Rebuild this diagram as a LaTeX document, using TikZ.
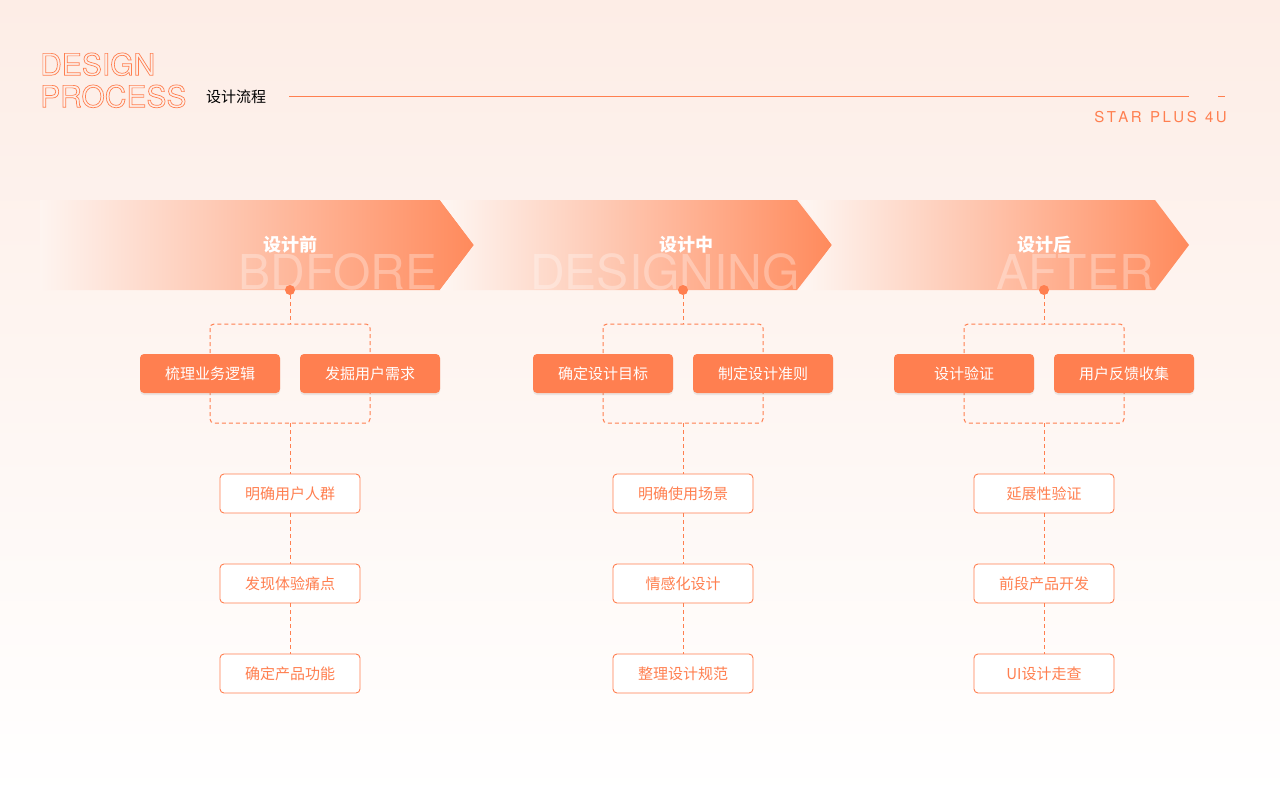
\documentclass[tikz,border=0pt]{standalone}
\usepackage{fontspec}
\setmainfont{TeX Gyre Heros}
\newfontfamily\cjk{Noto Sans CJK SC}
\usetikzlibrary{shadows}
\definecolor{org}{HTML}{FF7F50}
\definecolor{bgtop}{HTML}{FDEDE6}
\definecolor{bandl}{HTML}{FDEFE8}
\definecolor{bandm}{HTML}{FFCBB4}
\definecolor{bandr}{HTML}{FF8A5C}
\newcommand{\outl}[1]{\special{pdf:literal direct 1 Tr 0.7 w}#1\special{pdf:literal direct 0 Tr}}
\begin{document}
\begin{tikzpicture}[x=1pt,y=-1pt,
 fbox/.style={fill=org,rounded corners=4pt,minimum width=140pt,minimum height=39pt,text=white,font=\cjk\fontsize{15}{15}\selectfont,drop shadow={opacity=0.15,shadow xshift=0pt,shadow yshift=-2pt}},
 obox/.style={draw=org,fill=white,rounded corners=4pt,minimum width=140pt,minimum height=39pt,text=org,font=\cjk\fontsize{15}{15}\selectfont,line width=0.9pt},
 dl/.style={draw=org,dash pattern=on 4pt off 3pt,line width=1pt},
 dbox/.style={dl,rounded corners=4pt},
 band/.style={left color=bandl,middle color=bandm,right color=bandr},
 bandlbl/.style={text=white,font=\cjk\bfseries\fontsize{18}{18}\selectfont},
 wm/.style={text=white,opacity=0.3,font=\fontsize{48}{48}\selectfont}]
\useasboundingbox (0,0) rectangle (1280,800);
\shade[top color=bgtop,bottom color=white] (0,0) rectangle (1280,800);
% header
\node[anchor=south west,inner sep=0,text=org,font=\fontsize{30}{30}\selectfont] (t1) at (40,76) {\outl{DESIGN}};
\node[anchor=south west,inner sep=0,text=org,font=\fontsize{30}{30}\selectfont] (t2) at (40,108) {\outl{PROCESS}};
\node[anchor=west,inner sep=0,font=\cjk\fontsize{15}{15}\selectfont] (t3) at (206,97) {设计流程};
\coordinate (la) at (289,96); \coordinate (lb) at (1189,96);
\draw[org,line width=0.8pt] (la) -- (lb);
\coordinate (ma) at (1218,96); \coordinate (mb) at (1225,96);
\draw[org,line width=0.8pt] (ma) -- (mb);
\node[anchor=east,inner sep=0,text=org,font=\fontsize{15}{15}\selectfont] (t4) at (1227,117) {S\,T\,A\,R\ \ P\,L\,U\,S\ \ 4\,U};
% bands
\shade[band,left color=bgtop!60!white] (40,200) -- (440,200) -- (474,245) -- (440,290) -- (40,290) -- cycle;
\shade[band,left color=bandl!50!white] (440,200) -- (797,200) -- (832,245) -- (797,290) -- (440,290) -- (474,245) -- cycle;
\shade[band,left color=bandl!50!white] (800,200) -- (1155,200) -- (1189,245) -- (1155,290) -- (800,290) -- (832,245) -- cycle;
\node[wm] (w1) at (338,272) {BDFORE};
\node[wm] (w2) at (665,272) {DESIGNING};
\node[wm] (w3) at (1075,272) {AFTER};
\node[bandlbl] (b1) at (290,245) {设计前};
\node[bandlbl] (b2) at (686,245) {设计中};
\node[bandlbl] (b3) at (1044,245) {设计后};
% columns
\foreach \cx/\i/\a/\b/\c/\d/\e in {
 290/1/梳理业务逻辑/发掘用户需求/明确用户人群/发现体验痛点/确定产品功能,
 683/2/确定设计目标/制定设计准则/明确使用场景/情感化设计/整理设计规范,
 1044/3/设计验证/用户反馈收集/延展性验证/前段产品开发/UI设计走查}{
 \node[circle,fill=org,inner sep=0,minimum size=10pt] (dot\i) at (\cx,290) {};
 \draw[dbox] (\cx-80,324) rectangle (\cx+80,423);
 \coordinate (bt\i) at (\cx,324); \coordinate (bb\i) at (\cx,423);
 \draw[dl] (dot\i) -- (bt\i);
 \node[fbox] (fa\i) at (\cx-80,373.5) {\a};
 \node[fbox] (fb\i) at (\cx+80,373.5) {\b};
 \node[obox] (o1\i) at (\cx,493.5) {\c};
 \node[obox] (o2\i) at (\cx,583.5) {\d};
 \node[obox] (o3\i) at (\cx,673.5) {\e};
 \draw[dl] (bb\i) -- (o1\i);
 \draw[dl] (o1\i) -- (o2\i);
 \draw[dl] (o2\i) -- (o3\i);
}
\end{tikzpicture}
\end{document}
